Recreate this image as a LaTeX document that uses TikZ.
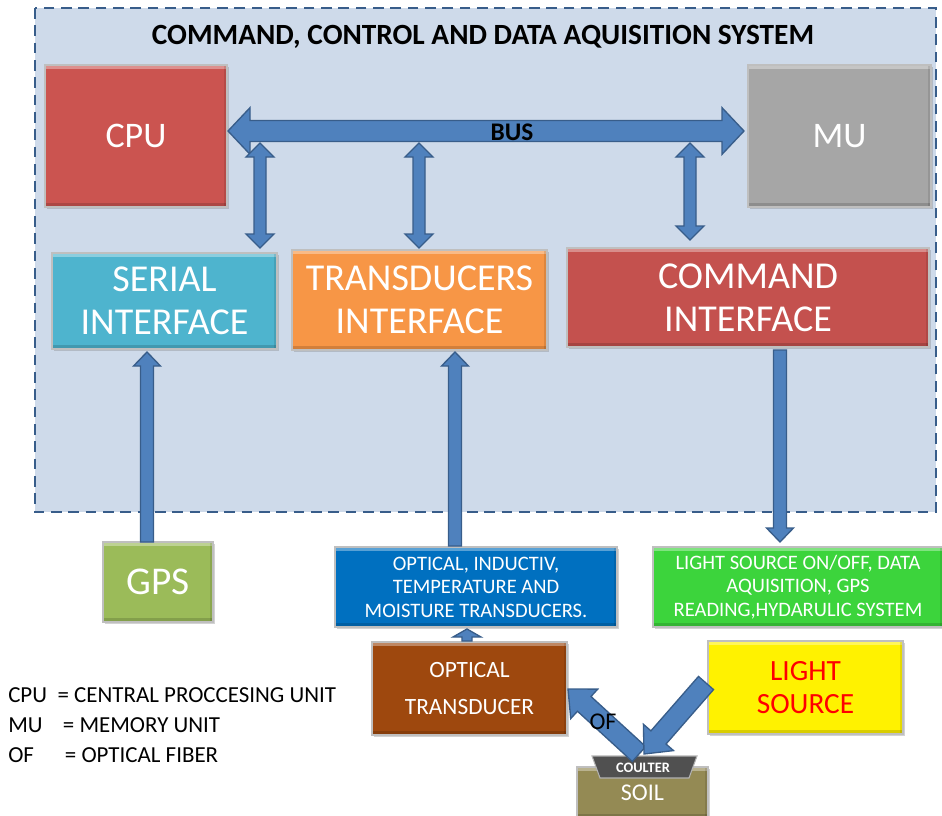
\documentclass[tikz,border=0pt]{standalone}
\usepackage{fontspec}
\setmainfont{Carlito}
\usetikzlibrary{calc,shadows}
\definecolor{sysbg}{RGB}{206,218,234}
\definecolor{sysline}{RGB}{56,93,138}
\definecolor{arrfill}{RGB}{79,129,189}
\definecolor{arrline}{RGB}{56,93,138}
\definecolor{cpured}{RGB}{203,84,80}
\definecolor{mugray}{RGB}{166,166,166}
\definecolor{serialblue}{RGB}{78,180,206}
\definecolor{transorange}{RGB}{247,150,70}
\definecolor{cmdred}{RGB}{196,81,78}
\definecolor{gpsgreen}{RGB}{155,187,89}
\definecolor{optblue}{RGB}{0,112,192}
\definecolor{brightgreen}{RGB}{60,212,60}
\definecolor{brown}{RGB}{158,72,14}
\definecolor{coultergray}{RGB}{80,80,80}
\definecolor{soilolive}{RGB}{148,138,84}
\newcommand\bbox[8]{% name, x1, y1, x2, y2, fill (+options), font, text
  \node[box, fill=#6, font=#7, minimum width={(#4-#2)*0.75pt}, minimum height={(#5-#3)*0.75pt}]
    (#1) at ({(#2+#4)/2},{(#3+#5)/2}) {#8};}
\newcommand\sarrow[5]{% from, to, half shaft, half head, head length
  \coordinate (hB) at ($(#2)!#5!(#1)$);
  \draw[fatarrow] ($(#1)!#3!90:(#2)$) -- ($(hB)!#3!90:(#2)$) -- ($(hB)!#4!90:(#2)$) -- (#2)
    -- ($(hB)!#4!-90:(#2)$) -- ($(hB)!#3!-90:(#2)$) -- ($(#1)!#3!-90:(#2)$) -- cycle;}
\newcommand\darrow[5]{% from, to, half shaft, half head, head length
  \coordinate (hA) at ($(#1)!#5!(#2)$);
  \coordinate (hB) at ($(#2)!#5!(#1)$);
  \draw[fatarrow] (#1) -- ($(hA)!#4!90:(#2)$) -- ($(hA)!#3!90:(#2)$) -- ($(hB)!#3!90:(#2)$)
    -- ($(hB)!#4!90:(#2)$) -- (#2) -- ($(hB)!#4!-90:(#2)$) -- ($(hB)!#3!-90:(#2)$)
    -- ($(hA)!#3!-90:(#2)$) -- ($(hA)!#4!-90:(#2)$) -- cycle;}
\begin{document}
\begin{tikzpicture}[x=0.75pt,y=-0.75pt,
  box/.style={draw=gray!50, line width=0.8pt, inner sep=0pt, align=center, text=white,
    drop shadow={shadow xshift=1.3pt, shadow yshift=-1.3pt, opacity=0.35},
    path picture={
      \fill[white,opacity=0.35] (path picture bounding box.north west) rectangle ([yshift=-3pt]path picture bounding box.north east);
      \fill[black,opacity=0.15] (path picture bounding box.south west) rectangle ([yshift=3pt]path picture bounding box.south east);
      \fill[black,opacity=0.10] (path picture bounding box.south east) rectangle ([xshift=-2.5pt]path picture bounding box.north east);}},
  fatarrow/.style={fill=arrfill, draw=arrline, line width=1pt, line join=miter},
  lbl/.style={inner sep=0pt, text=black},
  legend/.style={lbl, anchor=west, font=\fontsize{17.2}{20}\selectfont}]
\useasboundingbox (0,0) rectangle (942,815);
% system frame
\draw[fill=sysbg, draw=sysline, line width=1.9pt, dash pattern=on 8pt off 5pt] (35,8) rectangle (936,512);
\node[lbl, font=\bfseries\fontsize{22}{24}\selectfont] (title) at (483,37) {COMMAND, CONTROL AND DATA AQUISITION SYSTEM};
% top units
\bbox{cpu}{45}{65}{227}{207}{cpured}{\fontsize{27}{30}\selectfont}{CPU}
\bbox{mu}{748}{65}{931}{207}{mugray}{\fontsize{27}{30}\selectfont}{MU}
% interfaces
\bbox{serial}{52}{253}{277}{349}{serialblue}{\fontsize{28.5}{32}\selectfont}{SERIAL\\INTERFACE}
\bbox{trans}{292}{250}{547}{350}{transorange}{\fontsize{28.5}{32}\selectfont}{TRANSDUCERS\\INTERFACE}
\bbox{cmd}{567}{248}{929}{347}{cmdred}{\fontsize{28.5}{32}\selectfont}{COMMAND\\INTERFACE}
% outside boxes
\bbox{gps}{103}{542}{213}{622}{gpsgreen}{\fontsize{29.5}{30}\selectfont}{GPS}
\bbox{sensors}{335}{547}{617}{627}{optblue}{\fontsize{15.4}{17.6}\selectfont}{OPTICAL, INDUCTIV,\\TEMPERATURE AND\\MOISTURE TRANSDUCERS.}
\bbox{actions}{653}{547}{943}{627}{brightgreen}{\fontsize{15.4}{17.6}\selectfont}{LIGHT SOURCE ON/OFF, DATA\\AQUISITION, GPS\\READING,HYDARULIC SYSTEM}
\bbox{otrans}{372}{642}{567}{735}{brown}{\fontsize{17.5}{28}\selectfont}{OPTICAL\\TRANSDUCER}
\bbox{light}{708}{641}{903}{734}{yellow, text=red}{\fontsize{22}{25}\selectfont}{LIGHT\\SOURCE}
\bbox{soil}{577}{767}{708}{818}{soilolive}{\fontsize{18}{20}\selectfont}{\raisebox{-4pt}{SOIL}}
% coulter
\draw[fill=coultergray, draw=gray!60, line width=0.8pt] (592,756) -- (697,756) -- (689,778) -- (600,778) -- cycle;
\node[lbl, text=white, font=\bfseries\fontsize{10.8}{12}\selectfont] (coulter) at (643,768) {COULTER};
% bus and links
\coordinate (busL) at (228,131);
\coordinate (busR) at (744,131);
\darrow{busL}{busR}{7.9pt}{17.5pt}{16.5pt}
\node[lbl, font=\bfseries\fontsize{19}{20}\selectfont] (bus) at (512,132) {BUS};
\coordinate (v1t) at (260,143); \coordinate (v1b) at (260,248);
\coordinate (v2t) at (419,143); \coordinate (v2b) at (419,248);
\coordinate (v3t) at (690,143); \coordinate (v3b) at (690,240);
\darrow{v1t}{v1b}{4.5pt}{10.5pt}{10.5pt}
\darrow{v2t}{v2b}{4.5pt}{10.5pt}{10.5pt}
\darrow{v3t}{v3b}{4.5pt}{10.5pt}{10.5pt}
% vertical data arrows
\coordinate (g1) at (147,542); \coordinate (g2) at (147,352);
\sarrow{g1}{g2}{4.9pt}{10.1pt}{10.5pt}
\coordinate (t1) at (455,546); \coordinate (t2) at (455,352);
\sarrow{t1}{t2}{4.9pt}{10.1pt}{10.5pt}
\coordinate (c1) at (780,350); \coordinate (c2) at (780,542);
\sarrow{c1}{c2}{4.9pt}{10.1pt}{10.5pt}
\coordinate (o1) at (467,641); \coordinate (o2) at (467,629);
\sarrow{o1}{o2}{3.8pt}{10.5pt}{6pt}
% optical fibre and light
\coordinate (of1) at (639,754); \coordinate (of2) at (568,689);
\sarrow{of1}{of2}{7.5pt}{15pt}{16.5pt}
\coordinate (ls1) at (706,683); \coordinate (ls2) at (644,754);
\sarrow{ls1}{ls2}{7.5pt}{15pt}{16.5pt}
\node[lbl, font=\fontsize{18}{20}\selectfont] (oflbl) at (603,722) {OF};
% legend
\node[legend] (leg1) at (8,695) {\makebox[37pt][l]{CPU}= CENTRAL PROCCESING UNIT};
\node[legend] (leg2) at (8,725) {\makebox[41pt][l]{MU}= MEMORY UNIT};
\node[legend] (leg3) at (8,755) {\makebox[42.5pt][l]{OF}= OPTICAL FIBER};
\end{tikzpicture}
\end{document}
